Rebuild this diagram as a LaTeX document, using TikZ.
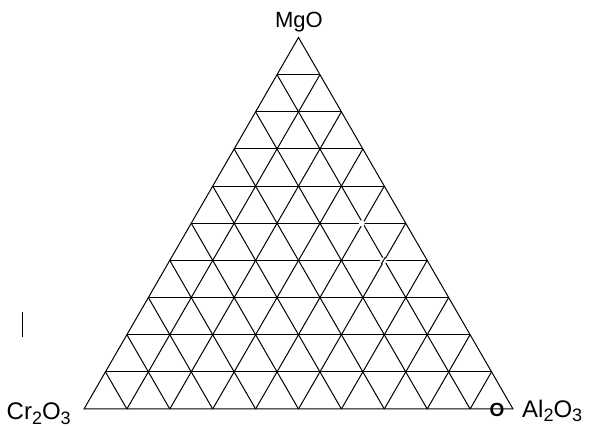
\documentclass[tikz,border=0pt]{standalone}
\usepackage{fontspec}
\usetikzlibrary{calc}
\setmainfont{Liberation Sans}
\newcommand{\lsub}[1]{\raisebox{-4.5pt}{\fontsize{18}{18}\selectfont #1}}
\begin{document}
\begin{tikzpicture}[x=1pt,y=-1pt,
  gridline/.style={line width=1pt,black},
  lbl/.style={font=\fontsize{24}{26}\selectfont,inner sep=0pt},
  gapmark/.style={fill=white,draw=none}]
\useasboundingbox[fill=white] (0,0) rectangle (592,427);
\coordinate (L) at (84,409);
\coordinate (R) at (513,409);
\coordinate (A) at (298.5,37.5);
% grid
\foreach \k in {1,...,9}{
  \pgfmathsetmacro{\m}{10-\k}
  \draw[gridline] ($(L)!{\k/10}!(A)$) -- ($(R)!{\k/10}!(A)$);
  \draw[gridline] ($(L)!{\k/10}!(R)$) -- ($(R)!{\m/10}!(A)$);
  \draw[gridline] ($(L)!{\k/10}!(R)$) -- ($(L)!{\k/10}!(A)$);
}
\draw[gridline] (L) -- (R) -- (A) -- cycle;
% small gaps in the grid
\fill[gapmark] (361.7,223.3) circle (3);
\fill[gapmark] (383.3,260.7) circle (3.2);
\draw[gridline] (381.3,264.2) -- (385.3,257.2);
% labels
\node[font=\fontsize{22}{24}\selectfont,inner sep=0pt,anchor=base] (mgo) at (299,28) {MgO};
\node[lbl,anchor=base west] (cr) at (6.5,420) {Cr\lsub{2}O\lsub{3}};
\node[lbl,anchor=base west] (al) at (522,417.5) {Al\lsub{2}O\lsub{3}};
\node[inner sep=0pt,font=\fontsize{19}{19}\selectfont\bfseries] (o) at (497,409.5) {O};
% stray bar
\draw[line width=1.5pt] (22.3,312.5) coordinate (b1) -- (22.3,337) coordinate (b2);
\end{tikzpicture}
\end{document}
